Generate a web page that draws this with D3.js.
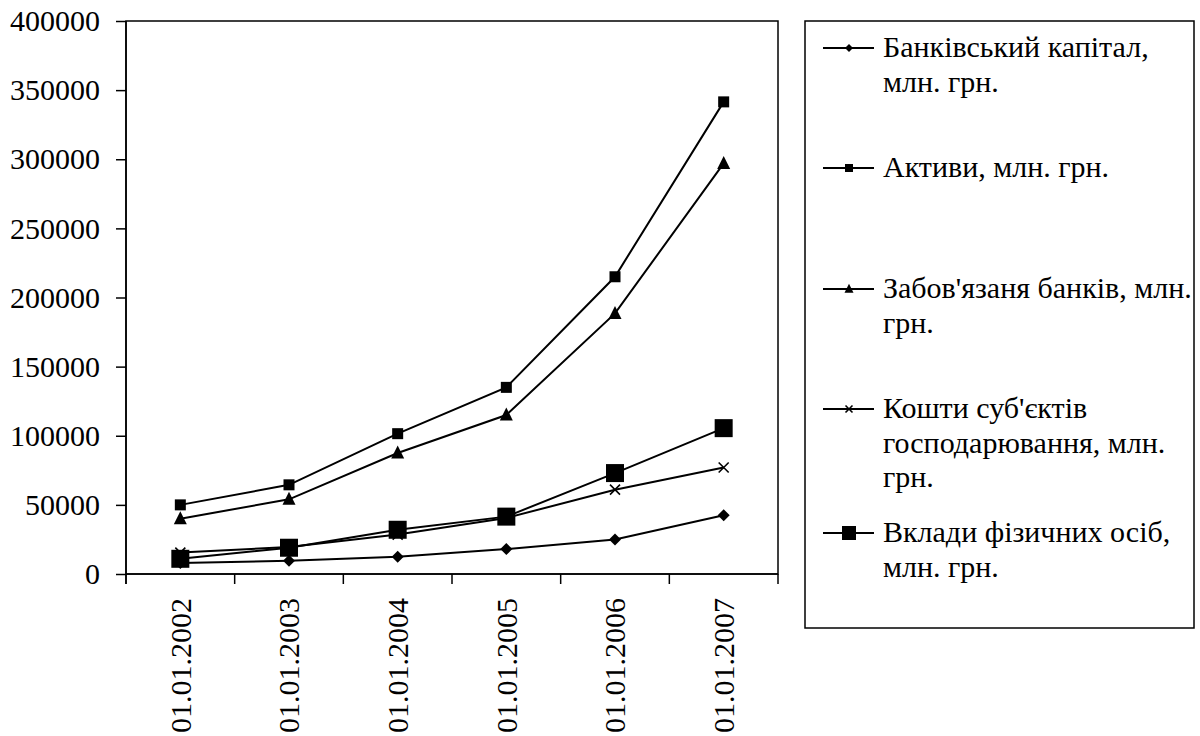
<!DOCTYPE html>
<html>
<head>
<meta charset="utf-8">
<script src="https://cdn.jsdelivr.net/npm/d3@7"></script>
</head>
<body style="margin:0">
<script>
// dates on the x axis
var categories = ['01.01.2002', '01.01.2003', '01.01.2004', '01.01.2005', '01.01.2006', '01.01.2007'];

// series values, mln UAH
var capital     = [8000, 9500, 12500, 18000, 25000, 42500];
var assets      = [50000, 64500, 101500, 135000, 215000, 341500];
var liabilities = [40000, 54000, 87500, 115000, 188500, 297000];
var entities    = [15500, 19500, 28500, 40500, 61000, 77000];
var deposits    = [11000, 19000, 32000, 41500, 73000, 105500];

// legend labels, already broken into lines like the original
var legendLines = [
    ['Банківський капітал,', 'млн. грн.'],
    ['Активи, млн. грн.'],
    ["Забов'язаня банків, млн.", 'грн.'],
    ["Кошти суб'єктів", 'господарювання, млн.', 'грн.'],
    ['Вклади фізичних осіб,', 'млн. грн.']
];

var yTicks = [0, 50000, 100000, 150000, 200000, 250000, 300000, 350000, 400000];

var series = [
    {values: capital,     marker: 'diamond'},
    {values: assets,      marker: 'square'},
    {values: liabilities, marker: 'triangle'},
    {values: entities,    marker: 'x'},
    {values: deposits,    marker: 'bigsquare'}
];

var width = 1200, height = 736;
var plot = {left: 126, right: 778, top: 21, bottom: 574};

var svg = d3.select('body').append('svg')
    .attr('width', width)
    .attr('height', height)
    .attr('font-family', 'Liberation Serif')
    .style('font-family', "'Liberation Serif'");

var x = d3.scaleBand()
    .domain(categories)
    .range([plot.left, plot.right])
    .padding(0);

var y = d3.scaleLinear()
    .domain([0, 400000])
    .range([plot.bottom, plot.top]);

// plot frame (top and right border)
svg.append('rect')
    .attr('x', plot.left)
    .attr('y', plot.top)
    .attr('width', plot.right - plot.left)
    .attr('height', plot.bottom - plot.top)
    .attr('fill', 'none')
    .attr('stroke', '#000')
    .attr('stroke-width', 1.5);

// y axis, labels written by hand so the axis group font does not interfere
var yAxis = svg.append('g')
    .attr('transform', 'translate(' + plot.left + ',0)')
    .call(d3.axisLeft(y).tickValues(yTicks).tickFormat('').tickSize(10));
yAxis.selectAll('line, path').attr('stroke', '#000').attr('stroke-width', 1.5);
yAxis.select('.domain').attr('d', 'M0,' + plot.top + 'V' + (plot.bottom + 10));

svg.selectAll('.ylab')
    .data(yTicks)
    .enter()
    .append('text')
    .attr('class', 'ylab')
    .attr('x', plot.left - 26)
    .attr('y', function(d){ return y(d); })
    .attr('dy', '0.34em')
    .attr('text-anchor', 'end')
    .style('font-family', "'Liberation Serif'")
    .style('font-size', '30px')
    .text(d3.format('d'));

// x axis: ticks between categories
var edges = categories.map(function(c){ return x(c); }).concat([plot.right]);
svg.append('g').selectAll('line')
    .data(edges)
    .enter()
    .append('line')
    .attr('x1', function(d){ return d; })
    .attr('x2', function(d){ return d; })
    .attr('y1', plot.bottom)
    .attr('y2', plot.bottom + 10)
    .attr('stroke', '#000')
    .attr('stroke-width', 1.5);
svg.append('line')
    .attr('x1', plot.left).attr('x2', plot.right)
    .attr('y1', plot.bottom).attr('y2', plot.bottom)
    .attr('stroke', '#000').attr('stroke-width', 1.5);

function cx(i){ return x(categories[i]) + x.bandwidth() / 2; }

// rotated category labels
svg.selectAll('.xlab')
    .data(categories)
    .enter()
    .append('text')
    .attr('class', 'xlab')
    .attr('transform', function(d){ return 'translate(' + (x(d) + x.bandwidth() / 2) + ',' + (plot.bottom + 24) + ') rotate(-90)'; })
    .attr('text-anchor', 'end')
    .attr('dy', '0.34em')
    .style('font-family', "'Liberation Serif'")
    .style('font-size', '30px')
    .text(function(d){ return d; });

var line = d3.line()
    .x(function(d, i){ return cx(i); })
    .y(function(d){ return y(d); });

function drawMarker(g, type, s){
    if (type === 'diamond') {
        g.append('path').attr('d', 'M0,' + (-s) + 'L' + s + ',0L0,' + s + 'L' + (-s) + ',0Z').attr('fill', '#000');
    } else if (type === 'square' || type === 'bigsquare') {
        g.append('rect').attr('x', -s).attr('y', -s).attr('width', 2 * s).attr('height', 2 * s).attr('fill', '#000');
    } else if (type === 'triangle') {
        g.append('path').attr('d', 'M0,' + (-s * 1.15) + 'L' + s + ',' + (s * 0.85) + 'L' + (-s) + ',' + (s * 0.85) + 'Z').attr('fill', '#000');
    } else if (type === 'x') {
        g.append('path').attr('d', 'M' + (-s) + ',' + (-s) + 'L' + s + ',' + s + 'M' + (-s) + ',' + s + 'L' + s + ',' + (-s))
            .attr('stroke', '#000').attr('stroke-width', 1.6).attr('fill', 'none');
    }
}

var plotSize = {diamond: 6, square: 5.5, triangle: 6.5, x: 5, bigsquare: 9};
var legendSize = {diamond: 4, square: 4, triangle: 4.5, x: 3.5, bigsquare: 7};

series.forEach(function(s){
    svg.append('path')
        .datum(s.values)
        .attr('d', line)
        .attr('fill', 'none')
        .attr('stroke', '#000')
        .attr('stroke-width', 2);
});
series.forEach(function(s){
    svg.selectAll(null)
        .data(s.values)
        .enter()
        .append('g')
        .attr('transform', function(d, i){ return 'translate(' + cx(i) + ',' + y(d) + ')'; })
        .each(function(){ drawMarker(d3.select(this), s.marker, plotSize[s.marker]); });
});

// legend
svg.append('rect')
    .attr('x', 805)
    .attr('y', 21)
    .attr('width', 389)
    .attr('height', 607)
    .attr('fill', 'none')
    .attr('stroke', '#000')
    .attr('stroke-width', 1.5);

var legendBaselines = [57, 177, 298, 418, 542];
var lineStep = 34.5;

series.forEach(function(s, i){
    var base = legendBaselines[i];
    svg.append('line')
        .attr('x1', 823).attr('x2', 874)
        .attr('y1', base - 9).attr('y2', base - 9)
        .attr('stroke', '#000').attr('stroke-width', 2);
    var m = svg.append('g').attr('transform', 'translate(849,' + (base - 9) + ')');
    drawMarker(m, s.marker, legendSize[s.marker]);
    legendLines[i].forEach(function(txt, j){
        svg.append('text')
            .attr('x', 883)
            .attr('y', base + j * lineStep)
            .style('font-family', "'Liberation Serif'")
            .style('font-size', '30px')
            .text(txt);
    });
});
</script>
</body>
</html>
